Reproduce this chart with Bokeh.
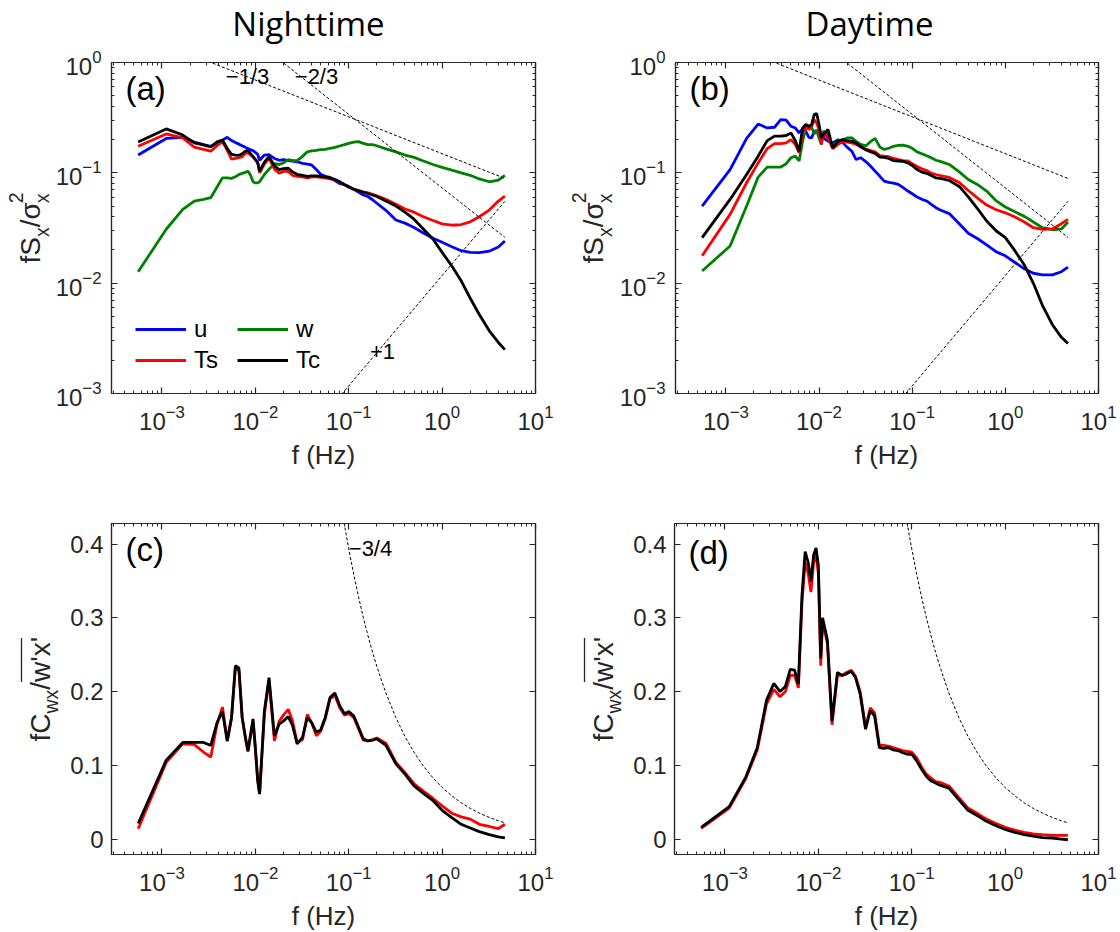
import math
from bokeh.plotting import figure
from bokeh.models import (FixedTicker, Range1d, Label, Legend, LegendItem,
                          CustomJSTickFormatter, LogAxis, LinearAxis)
from bokeh.layouts import row, column
from bokeh.embed import file_html
from bokeh.resources import INLINE

# ---------------- data ----------------
F = [0.000556, 0.00111, 0.00167, 0.00222, 0.00278, 0.00333, 0.00389, 0.00444, 0.00500, 0.00556,
     0.00611, 0.00667, 0.00722, 0.00778, 0.00833, 0.00889, 0.00944, 0.0100, 0.0106, 0.0111,
     0.0125, 0.014, 0.016, 0.018, 0.020, 0.0225, 0.025, 0.028, 0.032, 0.036,
     0.040, 0.045, 0.050, 0.056, 0.063, 0.071, 0.080, 0.090, 0.10, 0.113,
     0.127, 0.143, 0.16, 0.18, 0.20, 0.25, 0.32, 0.40, 0.50, 0.63,
     0.80, 1.0, 1.27, 1.6, 2.0, 2.5, 3.2, 4.0, 4.7]

# (a) nighttime normalized spectra
A_U = [0.145, 0.205, 0.210, 0.190, 0.180, 0.174, 0.185, 0.198, 0.210, 0.196,
       0.188, 0.182, 0.176, 0.171, 0.166, 0.162, 0.159, 0.153, 0.147, 0.130,
       0.145, 0.146, 0.135, 0.130, 0.132, 0.129, 0.128, 0.126, 0.122, 0.120,
       0.118, 0.107, 0.097, 0.093, 0.091, 0.085, 0.080, 0.0785, 0.074, 0.071,
       0.067, 0.063, 0.061, 0.057, 0.053, 0.0457, 0.0374, 0.035, 0.032, 0.0285,
       0.0255, 0.0235, 0.0214, 0.0197, 0.019, 0.0189, 0.0195, 0.0213, 0.0241]
A_W = [0.0127, 0.0308, 0.0466, 0.0555, 0.0575, 0.0595, 0.0743, 0.090, 0.090, 0.089,
       0.092, 0.0966, 0.099, 0.101, 0.1035, 0.095, 0.083, 0.081, 0.081, 0.083,
       0.0966, 0.108, 0.121, 0.119, 0.123, 0.132, 0.129, 0.129, 0.141, 0.155,
       0.158, 0.160, 0.162, 0.163, 0.167, 0.170, 0.175, 0.180, 0.185, 0.190,
       0.192, 0.185, 0.180, 0.180, 0.176, 0.165, 0.155, 0.145, 0.138, 0.128,
       0.119, 0.112, 0.106, 0.100, 0.095, 0.088, 0.083, 0.086, 0.095]
A_TS = [0.174, 0.225, 0.207, 0.171, 0.163, 0.157, 0.176, 0.192, 0.160, 0.133,
        0.135, 0.137, 0.140, 0.150, 0.152, 0.145, 0.140, 0.132, 0.125, 0.100,
        0.120, 0.136, 0.108, 0.099, 0.103, 0.103, 0.095, 0.093, 0.092, 0.090,
        0.092, 0.092, 0.091, 0.090, 0.088, 0.087, 0.082, 0.078, 0.075, 0.071,
        0.069, 0.067, 0.066, 0.064, 0.062, 0.0575, 0.052, 0.047, 0.044, 0.040,
        0.037, 0.0345, 0.0335, 0.034, 0.036, 0.040, 0.046, 0.0555, 0.0616]
A_TC = [0.190, 0.250, 0.220, 0.187, 0.179, 0.172, 0.191, 0.198, 0.166, 0.147,
        0.145, 0.144, 0.149, 0.157, 0.160, 0.149, 0.140, 0.132, 0.123, 0.104,
        0.125, 0.140, 0.116, 0.107, 0.109, 0.110, 0.102, 0.097, 0.095, 0.093,
        0.094, 0.094, 0.093, 0.092, 0.090, 0.087, 0.083, 0.078, 0.075, 0.071,
        0.069, 0.067, 0.065, 0.063, 0.061, 0.0555, 0.050, 0.044, 0.038, 0.031,
        0.025, 0.019, 0.0143, 0.0105, 0.0073, 0.0052, 0.0037, 0.0029, 0.0025]

# (b) daytime normalized spectra
B_U = [0.050, 0.107, 0.205, 0.277, 0.255, 0.259, 0.303, 0.300, 0.264, 0.255,
       0.230, 0.252, 0.238, 0.210, 0.207, 0.238, 0.242, 0.230, 0.215, 0.207,
       0.194, 0.187, 0.200, 0.187, 0.171, 0.157, 0.132, 0.137, 0.126, 0.114,
       0.1036, 0.093, 0.084, 0.082, 0.0806, 0.0785, 0.0733, 0.0684, 0.0646, 0.0603,
       0.0575, 0.0556, 0.0518, 0.0483, 0.046, 0.0427, 0.0346, 0.0283, 0.0254, 0.0222,
       0.0192, 0.0177, 0.0154, 0.0135, 0.0123, 0.0119, 0.0119, 0.0127, 0.0140]
B_W = [0.0129, 0.0217, 0.050, 0.0914, 0.1127, 0.1127, 0.113, 0.121, 0.137, 0.1416,
       0.128, 0.193, 0.255, 0.258, 0.258, 0.226, 0.241, 0.207, 0.181, 0.238,
       0.223, 0.174, 0.196, 0.199, 0.207, 0.207, 0.193, 0.181, 0.176, 0.193,
       0.205, 0.171, 0.163, 0.167, 0.174, 0.177, 0.178, 0.174, 0.167, 0.155,
       0.149, 0.143, 0.137, 0.130, 0.127, 0.119, 0.102, 0.087, 0.0785, 0.0684,
       0.0556, 0.049, 0.0443, 0.0403, 0.0358, 0.0318, 0.0305, 0.031, 0.0358]
B_TS = [0.0177, 0.042, 0.0813, 0.123, 0.166, 0.184, 0.184, 0.187, 0.200, 0.181,
        0.152, 0.230, 0.259, 0.247, 0.264, 0.303, 0.283, 0.247, 0.181, 0.230,
        0.207, 0.166, 0.181, 0.193, 0.190, 0.187, 0.181, 0.171, 0.164, 0.159,
        0.155, 0.1435, 0.1416, 0.140, 0.135, 0.132, 0.129, 0.128, 0.121, 0.114,
        0.1087, 0.105, 0.0993, 0.0966, 0.0946, 0.0908, 0.0817, 0.0692, 0.0594, 0.051,
        0.0463, 0.0434, 0.0398, 0.0358, 0.0318, 0.0308, 0.031, 0.0346, 0.0379]
B_TC = [0.0259, 0.0574, 0.0966, 0.1416, 0.196, 0.215, 0.215, 0.218, 0.230, 0.196,
        0.157, 0.255, 0.274, 0.264, 0.274, 0.337, 0.345, 0.274, 0.207, 0.223,
        0.247, 0.168, 0.193, 0.200, 0.196, 0.193, 0.187, 0.174, 0.161, 0.155,
        0.150, 0.139, 0.138, 0.135, 0.129, 0.128, 0.127, 0.123, 0.1167, 0.107,
        0.1015, 0.099, 0.0946, 0.090, 0.089, 0.0853, 0.0753, 0.0606, 0.0476, 0.0366,
        0.0297, 0.0259, 0.0196, 0.0146, 0.00997, 0.0063, 0.0042, 0.00323, 0.00284]

# (c) nighttime normalized cospectra
C_TS = [0.014, 0.104, 0.129, 0.128, 0.118, 0.111, 0.156, 0.179, 0.133, 0.165,
        0.233, 0.228, 0.165, 0.138, 0.119, 0.140, 0.160, 0.122, 0.079, 0.062,
        0.170, 0.215, 0.133, 0.160, 0.168, 0.176, 0.160, 0.131, 0.135, 0.169,
        0.158, 0.140, 0.146, 0.163, 0.190, 0.195, 0.178, 0.168, 0.170, 0.165,
        0.150, 0.134, 0.133, 0.135, 0.137, 0.130, 0.104, 0.090, 0.075, 0.065,
        0.055, 0.045, 0.035, 0.030, 0.027, 0.020, 0.017, 0.014, 0.020]
C_TC = [0.021, 0.107, 0.131, 0.131, 0.131, 0.127, 0.158, 0.173, 0.133, 0.165,
        0.235, 0.232, 0.165, 0.140, 0.119, 0.142, 0.163, 0.124, 0.079, 0.061,
        0.174, 0.219, 0.140, 0.156, 0.160, 0.166, 0.154, 0.129, 0.138, 0.165,
        0.158, 0.145, 0.148, 0.165, 0.192, 0.198, 0.181, 0.170, 0.173, 0.167,
        0.152, 0.136, 0.133, 0.134, 0.136, 0.127, 0.102, 0.088, 0.072, 0.062,
        0.052, 0.039, 0.029, 0.020, 0.015, 0.010, 0.006, 0.003, 0.0014]

# (d) daytime normalized cospectra
D_TS = [0.0145, 0.042, 0.082, 0.121, 0.183, 0.203, 0.193, 0.200, 0.222, 0.222,
        0.205, 0.320, 0.375, 0.360, 0.335, 0.375, 0.385, 0.360, 0.235, 0.295,
        0.265, 0.155, 0.222, 0.222, 0.226, 0.229, 0.221, 0.200, 0.152, 0.178,
        0.171, 0.127, 0.127, 0.126, 0.124, 0.122, 0.120, 0.119, 0.118, 0.110,
        0.098, 0.088, 0.083, 0.078, 0.077, 0.072, 0.056, 0.042, 0.035, 0.027,
        0.021, 0.016, 0.012, 0.009, 0.007, 0.006, 0.005, 0.005, 0.005]
D_TC = [0.0158, 0.044, 0.084, 0.124, 0.188, 0.211, 0.200, 0.207, 0.230, 0.229,
        0.210, 0.330, 0.390, 0.375, 0.350, 0.385, 0.395, 0.371, 0.245, 0.300,
        0.270, 0.160, 0.226, 0.222, 0.224, 0.2275, 0.219, 0.197, 0.149, 0.174,
        0.167, 0.124, 0.123, 0.124, 0.121, 0.120, 0.117, 0.115, 0.115, 0.106,
        0.095, 0.085, 0.079, 0.076, 0.073, 0.069, 0.053, 0.039, 0.032, 0.024,
        0.018, 0.013, 0.009, 0.006, 0.004, 0.002, 0.0014, 0.0, -0.001]

# reference slopes (two end points of straight log-log lines)
SLOPE_F = [0.000556, 4.7]
SLOPE_M13 = [1.82, 0.089]      # -1/3
SLOPE_M23 = [10.8, 0.026]      # -2/3
SLOPE_P1 = [6.5e-6, 0.0552]    # +1
COEF_M34 = 0.07                # -3/4 law in the cospectra panels

LEGEND_NAMES = ["u", "w", "Ts", "Tc"]
COLORS = {"u": "#0000ff", "w": "#008000", "Ts": "#ff0000", "Tc": "#000000"}
X_MAJOR = [1e-3, 1e-2, 1e-1, 1e0, 1e1]
Y_MAJOR_LOG = [1e-3, 1e-2, 1e-1, 1e0]
Y_MAJOR_LIN = [0, 0.1, 0.2, 0.3, 0.4]
TITLES = ["Nighttime", "Daytime"]

# ---------------- styling / layout ----------------
FONT = "Liberation Sans"
TFONT = "Open Sans"
INK = "#262626"
XMIN, XMAX = 2.88e-4, 10.0
FW, FH = 424, 331
LW = 2.8

# frame position of each panel (page pixels)
PANELS = {
    "a": dict(left=111, top=62, ylog=True, y0=1e-3, y1=1.0),
    "b": dict(left=674, top=62, ylog=True, y0=1e-3, y1=1.0),
    "c": dict(left=111, top=523, ylog=False, y0=-0.021, y1=0.428),
    "d": dict(left=674, top=523, ylog=False, y0=-0.021, y1=0.428),
}


def to_data(pn, xr, yr):
    P = PANELS[pn]
    lx0, lx1 = math.log10(XMIN), math.log10(XMAX)
    x = 10 ** (lx0 + (xr - P["left"]) / FW * (lx1 - lx0))
    t = (yr - P["top"]) / FH
    if P["ylog"]:
        ly0, ly1 = math.log10(P["y0"]), math.log10(P["y1"])
        y = 10 ** (ly1 - t * (ly1 - ly0))
    else:
        y = P["y1"] - t * (P["y1"] - P["y0"])
    return x, y


def txt(p, pn, xr, yr, text, size, color="black", font=FONT, align="center"):
    x, y = to_data(pn, xr, yr)
    p.add_layout(Label(x=x, y=y, text=text, text_font=font, text_font_size=f"{size}px",
                       text_color=color, text_align=align, text_baseline="middle"))


def minor_log(lo, hi):
    return [m * 10.0 ** e for e in range(lo, hi) for m in range(2, 10)]


def style_axis(ax, labels=True, standoff=8):
    ax.axis_line_color = INK
    ax.axis_line_width = 1.2
    ax.major_tick_line_color = INK
    ax.minor_tick_line_color = INK
    ax.major_tick_line_width = 1.2
    ax.minor_tick_line_width = 1.0
    ax.major_tick_in = 6
    ax.major_tick_out = 0
    ax.minor_tick_in = 3
    ax.minor_tick_out = 0
    ax.major_label_text_font = FONT
    ax.major_label_text_font_size = "24px"
    ax.major_label_text_color = INK
    ax.major_label_standoff = standoff
    if not labels:
        ax.formatter = CustomJSTickFormatter(code="return '';")
        ax.major_label_standoff = 0
        ax.major_label_text_font_size = "1px"


def make_panel(pn, width, height, bl, br, bt, bb):
    P = PANELS[pn]
    ytype = "log" if P["ylog"] else "linear"
    p = figure(width=width, height=height, x_axis_type="log", y_axis_type=ytype,
               x_range=Range1d(XMIN, XMAX), y_range=Range1d(P["y0"], P["y1"]),
               min_border_left=bl, min_border_right=br, min_border_top=bt,
               min_border_bottom=bb, toolbar_location=None, output_backend="svg",
               title=None)
    p.xgrid.visible = False
    p.ygrid.visible = False
    p.outline_line_color = INK
    p.outline_line_width = 1.2
    p.background_fill_color = "white"
    p.border_fill_color = "white"
    xt = FixedTicker(ticks=X_MAJOR, minor_ticks=minor_log(-4, 1))
    if P["ylog"]:
        yt = FixedTicker(ticks=Y_MAJOR_LOG, minor_ticks=minor_log(-3, 0))
    else:
        yt = FixedTicker(ticks=Y_MAJOR_LIN, minor_ticks=[])
    p.xaxis.ticker = xt
    p.yaxis.ticker = yt
    style_axis(p.xaxis[0], standoff=11)
    style_axis(p.yaxis[0], standoff=10 if P["ylog"] else 8)
    if not P["ylog"]:
        p.yaxis.formatter = CustomJSTickFormatter(
            code="return Math.abs(tick) < 1e-9 ? '0' : tick.toFixed(1);")
    top_ax = LogAxis(ticker=xt)
    style_axis(top_ax, labels=False)
    p.add_layout(top_ax, "above")
    right_ax = LogAxis(ticker=yt) if P["ylog"] else LinearAxis(ticker=yt)
    style_axis(right_ax, labels=False)
    p.add_layout(right_ax, "right")
    return p


def strip(w, h, bt=0, bb=0):
    """A text-only area without axes; data units are pixels (y up) inside its frame."""
    s = figure(width=w, height=h, x_range=Range1d(0, w), y_range=Range1d(0, h - bt - bb),
               min_border=0, min_border_left=0, min_border_right=0,
               min_border_top=bt, min_border_bottom=bb,
               toolbar_location=None, output_backend="svg", title=None,
               x_axis_location=None, y_axis_location=None)
    s.xgrid.visible = False
    s.ygrid.visible = False
    s.outline_line_color = None
    s.background_fill_color = "white"
    s.border_fill_color = "white"
    return s


def stxt(s, x, y, text, size, color="black", font=FONT, align="center", angle=0.0):
    s.add_layout(Label(x=x, y=y, text=text, text_font=font, text_font_size=f"{size}px",
                       text_color=color, text_align=align, text_baseline="middle",
                       angle=angle))


def rotated_label(s, ystart, pieces):
    """pieces: (text, size, x of the text's centre line, advance upward)."""
    y = ystart
    for text, size, xc, adv in pieces:
        stxt(s, xc, y, text, size, color=INK, align="left", angle=math.pi / 2)
        y += adv
    return y


# page layout: title 0..47 | row 1 47..439 | x label 439..503 | row 2 503..900 | x label 900..930
TOP1 = 15
title_strip = strip(1118, 47)
ylab_a = strip(52, TOP1 + 331 + 46, TOP1, 46)
ylab_b = strip(48, TOP1 + 331 + 46, TOP1, 46)
ylab_c = strip(64, 397, 20, 46)
ylab_d = strip(56, 397, 20, 46)
xlab1 = strip(1118, 64)
xlab2 = strip(1118, 30)

pa = make_panel("a", 516, TOP1 + 331 + 46, 59, 33, TOP1, 46)
pb = make_panel("b", 502, TOP1 + 331 + 46, 58, 20, TOP1, 46)
pc = make_panel("c", 504, 397, 47, 33, 20, 46)
pd = make_panel("d", 494, 397, 50, 20, 20, 46)

# spectra
rend_a = {}
for name, vals in zip(LEGEND_NAMES, [A_U, A_W, A_TS, A_TC]):
    rend_a[name] = pa.line(F, vals, line_color=COLORS[name], line_width=LW)
for name, vals in zip(LEGEND_NAMES, [B_U, B_W, B_TS, B_TC]):
    pb.line(F, vals, line_color=COLORS[name], line_width=LW)
for p in (pa, pb):
    for vals in (SLOPE_M13, SLOPE_M23, SLOPE_P1):
        p.line(SLOPE_F, vals, line_color="black", line_width=1, line_dash="3 2")

# cospectra
M34 = [COEF_M34 * f ** -0.75 for f in F]
for p, ts, tc in ((pc, C_TS, C_TC), (pd, D_TS, D_TC)):
    p.line(F, M34, line_color="black", line_width=1, line_dash="3 2")
    p.line(F, ts, line_color=COLORS["Ts"], line_width=LW)
    p.line(F, tc, line_color=COLORS["Tc"], line_width=LW)

# legend in (a)
legend = Legend(items=[LegendItem(label=n, renderers=[rend_a[n]]) for n in LEGEND_NAMES],
                location=(24, 18), ncols=2, orientation="horizontal",
                glyph_width=51, glyph_height=20, label_standoff=8, label_width=43,
                label_height=31, spacing=0, padding=0, margin=0,
                border_line_alpha=0, background_fill_alpha=0,
                label_text_font=FONT, label_text_font_size="24px",
                label_text_color="black")
pa.add_layout(legend, "center")

# panel letters
txt(pa, "a", 125, 88, "(a)", 33, align="left")
txt(pb, "b", 688, 88, "(b)", 33, align="left")
txt(pc, "c", 125, 549, "(c)", 33, align="left")
txt(pd, "d", 688, 552, "(d)", 33, align="left")

# slope annotations
txt(pa, "a", 247, 76, "\u22121/3", 22)
txt(pa, "a", 316, 76, "\u22122/3", 22)
txt(pa, "a", 382, 351, "+1", 22)
txt(pc, "c", 370, 548, "\u22123/4", 22)

# column titles (strip: x = page x, y = 47 - page y)
stxt(title_strip, 308, 47 - 23, TITLES[0], 33, font=TFONT)
stxt(title_strip, 869, 47 - 23, TITLES[1], 33, font=TFONT)

# x-axis labels
for s, yc in ((xlab1, 503 - 454), (xlab2, 930 - 915)):
    stxt(s, 323, yc, "f (Hz)", 26, color=INK)
    stxt(s, 886, yc, "f (Hz)", 26, color=INK)

# y-axis labels built from pieces, rotated 90 degrees (y = frame bottom - page y)
M, S = 28, 19.5
SPEC_PIECES = [("fS", M, 30.3, 26.5), ("x", S, 41.2, 9.75), ("/\u03c3", M, 30.3, 24.0),
               ("2", S, 15.2, 0), ("x", S, 41.2, 10.8)]
rotated_label(ylab_a, 393 - 263, SPEC_PIECES)
rotated_label(ylab_b, 393 - 263, [(t, z, xc - 5, a) for t, z, xc, a in SPEC_PIECES])

COSP_PIECES = [("fC", M, 39.8, 28.0), ("wx", S, 50.2, 23.8), ("/", M, 39.8, 7.8),
               ("w'x'", M, 39.8, 44.9)]
for s, dx in ((ylab_c, 0), (ylab_d, -5)):
    y0 = 854 - 741
    rotated_label(s, y0, [(t, z, xc + dx, a) for t, z, xc, a in COSP_PIECES])
    yo0 = y0 + 28.0 + 23.8 + 7.8
    s.segment(x0=[21 + dx], y0=[yo0], x1=[21 + dx], y1=[yo0 + 44],
              line_color=INK, line_width=1.3)

layout = column(title_strip,
                row(ylab_a, pa, ylab_b, pb),
                xlab1,
                row(ylab_c, pc, ylab_d, pd),
                xlab2)
open("out.html", "w").write(file_html(layout, INLINE))
